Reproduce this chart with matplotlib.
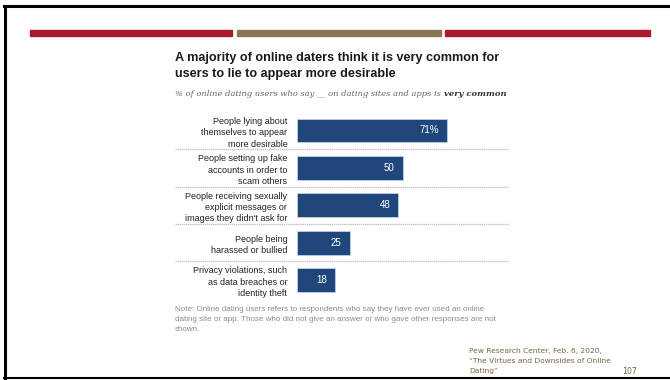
import matplotlib
matplotlib.use("Agg")
import matplotlib.pyplot as plt
from matplotlib.lines import Line2D
from matplotlib.patches import Rectangle
import matplotlib.transforms as mtransforms

# data
categories = [
    "People lying about\nthemselves to appear\nmore desirable",
    "People setting up fake\naccounts in order to\nscam others",
    "People receiving sexually\nexplicit messages or\nimages they didn't ask for",
    "People being\nharassed or bullied",
    "Privacy violations, such\nas data breaches or\nidentity theft",
]
values = [71, 50, 48, 25, 18]
value_labels = ["71%", "50", "48", "25", "18"]

W, H = 670, 380
BLUE = "#1f477b"

def fx(x):
    return x / W

def fy(y):
    return 1 - y / H

fig = plt.figure(figsize=(6.7, 3.8), dpi=100)
fig.patch.set_facecolor("white")

# slide border
fig.add_artist(Line2D([fx(4), 1], [fy(6), fy(6)], color="black", lw=2.2))
fig.add_artist(Line2D([fx(5), fx(5)], [fy(6), fy(378)], color="black", lw=2.2))
fig.add_artist(Line2D([fx(4), 1], [fy(378), fy(378)], color="black", lw=1.5))

# header stripes
for x0, x1, c in [(30, 232, "#a81b2e"), (237, 441, "#8b7651"), (445, 650, "#a81b2e")]:
    fig.add_artist(Rectangle((fx(x0), fy(36)), fx(x1 - x0), 6 / H,
                             color=c, transform=fig.transFigure))

# title and subtitle
fig.text(fx(175), fy(58), "A majority of online daters think it is very common for",
         fontsize=9.1, fontweight="bold", family="Liberation Sans", color="#1a1a1a",
         va="center")
fig.text(fx(175), fy(74), "users to lie to appear more desirable",
         fontsize=9.1, fontweight="bold", family="Liberation Sans", color="#1a1a1a",
         va="center")
sub = fig.text(fx(175), fy(94), "% of online dating users who say __ on dating sites and apps is ",
               fontsize=6.0, style="italic", family="DejaVu Serif", color="#666666",
               va="center")
fig.canvas.draw()
bb = sub.get_window_extent().transformed(fig.transFigure.inverted())
fig.text(bb.x1, fy(94), "very common", fontsize=6.0, style="italic", fontweight="bold",
         family="DejaVu Serif", color="#333333", va="center")

# bar chart
bar_top, bar_bot = 111.8, 298.7
scale = 2.113  # px per percent
ax = fig.add_axes([fx(297), fy(bar_bot), fx(100 * scale), (bar_bot - bar_top) / H])
ypos = list(range(len(values)))
ax.barh(ypos, values, height=0.64, color=BLUE, edgecolor="#c9d6e8", linewidth=0.5)
ax.set_xlim(0, 100)
ax.set_ylim(len(values) - 0.5, -0.5)
ax.set_yticks(ypos)
ax.set_yticklabels(categories, fontsize=6.5, family="Liberation Sans", color="#222222",
                   linespacing=1.35)
ax.tick_params(axis="y", length=0, pad=7)
ax.set_xticks([])
for s in ax.spines.values():
    s.set_visible(False)
ax.patch.set_alpha(0)

for yv, v, lab in zip(ypos, values, value_labels):
    ax.annotate(lab, (v, yv), xytext=(-6, 0), textcoords="offset points",
                ha="right", va="center", color="white", fontsize=7,
                family="Liberation Sans")

# dotted separators between rows
tr = mtransforms.blended_transform_factory(fig.transFigure, ax.transData)
for k in range(len(values) - 1):
    ax.add_line(Line2D([fx(175), fx(509)], [k + 0.5, k + 0.5], transform=tr,
                       color="#c4c4c4", lw=1.0, ls=(0, (1, 0.5)), clip_on=False))

# note
note = ("Note: Online dating users refers to respondents who say they have ever used an online\n"
        "dating site or app. Those who did not give an answer or who gave other responses are not\n"
        "shown.")
fig.text(fx(175), fy(306), note, fontsize=5.8, family="Liberation Sans", color="#8c8c8c",
         va="top", linespacing=1.6)

# source
src = ("Pew Research Center, Feb. 6, 2020,\n"
       "\u201cThe Virtues and Downsides of Online\n"
       "Dating\u201d")
fig.text(fx(469), fy(348), src, fontsize=5.4, family="DejaVu Sans", color="#7a6440",
         va="top", linespacing=1.75)
fig.text(fx(622), fy(371), "107", fontsize=5.6, family="DejaVu Sans", color="#7a6440",
         va="center")

fig.savefig("out.png", dpi=100, facecolor="white")
